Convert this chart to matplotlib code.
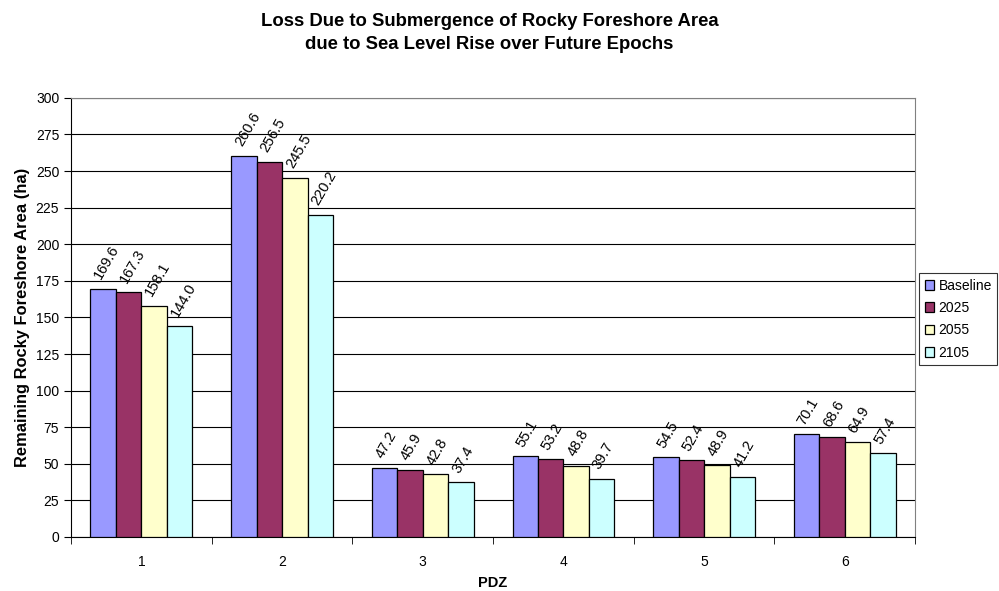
import numpy as np
import matplotlib
matplotlib.use('Agg')
import matplotlib.pyplot as plt

plt.rcParams['font.family'] = ['Liberation Sans', 'DejaVu Sans']

zones = ['1', '2', '3', '4', '5', '6']
series = ['Baseline', '2025', '2055', '2105']
baseline = [169.6, 260.6, 47.2, 55.1, 54.5, 70.1]
y2025 = [167.3, 256.5, 45.9, 53.2, 52.4, 68.6]
y2055 = [158.1, 245.5, 42.8, 48.8, 48.9, 64.9]
y2105 = [144.0, 220.2, 37.4, 39.7, 41.2, 57.4]
colors = ['#9999FF', '#993366', '#FFFFCC', '#CCFFFF']

fig = plt.figure(figsize=(9.99, 5.91), dpi=100)
ax = fig.add_axes([0.0711, 0.0914, 0.845, 0.743])

x = np.arange(len(zones))
w = 0.181
for k, (vals, c, name) in enumerate(zip([baseline, y2025, y2055, y2105], colors, series)):
    pos = x + (k - 1.5) * w
    ax.bar(pos, vals, width=w, color=c, edgecolor='black', linewidth=0.9, label=name, zorder=3)
    for px, v in zip(pos, vals):
        ax.annotate(f'{v:.1f}', xy=(px, v), xytext=(0.5, 5), textcoords='offset points',
                    rotation=60, rotation_mode='anchor', ha='left', va='bottom',
                    fontsize=10.5, zorder=4)

ax.set_xlim(-0.5, len(zones) - 0.5)
ax.set_ylim(0, 300)
ax.set_yticks(np.arange(0, 301, 25))
ax.set_xticks(x)
ax.set_xticklabels(zones)
ax.set_xticks(np.arange(-0.5, len(zones), 1), minor=True)
ax.tick_params(axis='x', which='major', length=0, pad=13, labelsize=10)
ax.tick_params(axis='x', which='minor', length=5, direction='out')
ax.tick_params(axis='y', length=5, labelsize=10)
ax.yaxis.grid(True, color='black', linewidth=0.8, zorder=0)
ax.set_axisbelow(True)
for s in ['top', 'right']:
    ax.spines[s].set_color('#808080')
ax.spines['left'].set_color('black')
ax.spines['bottom'].set_color('black')

ax.set_xlabel('PDZ', fontweight='bold', fontsize=10.5, labelpad=5)
ax.set_ylabel('Remaining Rocky Foreshore Area (ha)', fontweight='bold', fontsize=11.9, labelpad=4)
fig.text(0.49, 0.944, 'Loss Due to Submergence of Rocky Foreshore Area\ndue to Sea Level Rise over Future Epochs',
         ha='center', va='center', fontweight='bold', fontsize=13.3, linespacing=1.45)

# legend squeezed into the right margin
leg = fig.legend(loc='upper left', bbox_to_anchor=(0.92, 0.538), frameon=True, fancybox=False,
                 edgecolor='black', fontsize=10, handlelength=0.7, handleheight=0.7,
                 handletextpad=0.3, borderpad=0.4, labelspacing=0.6, borderaxespad=0)
leg.get_frame().set_linewidth(0.8)

fig.savefig('out.png', dpi=100)
